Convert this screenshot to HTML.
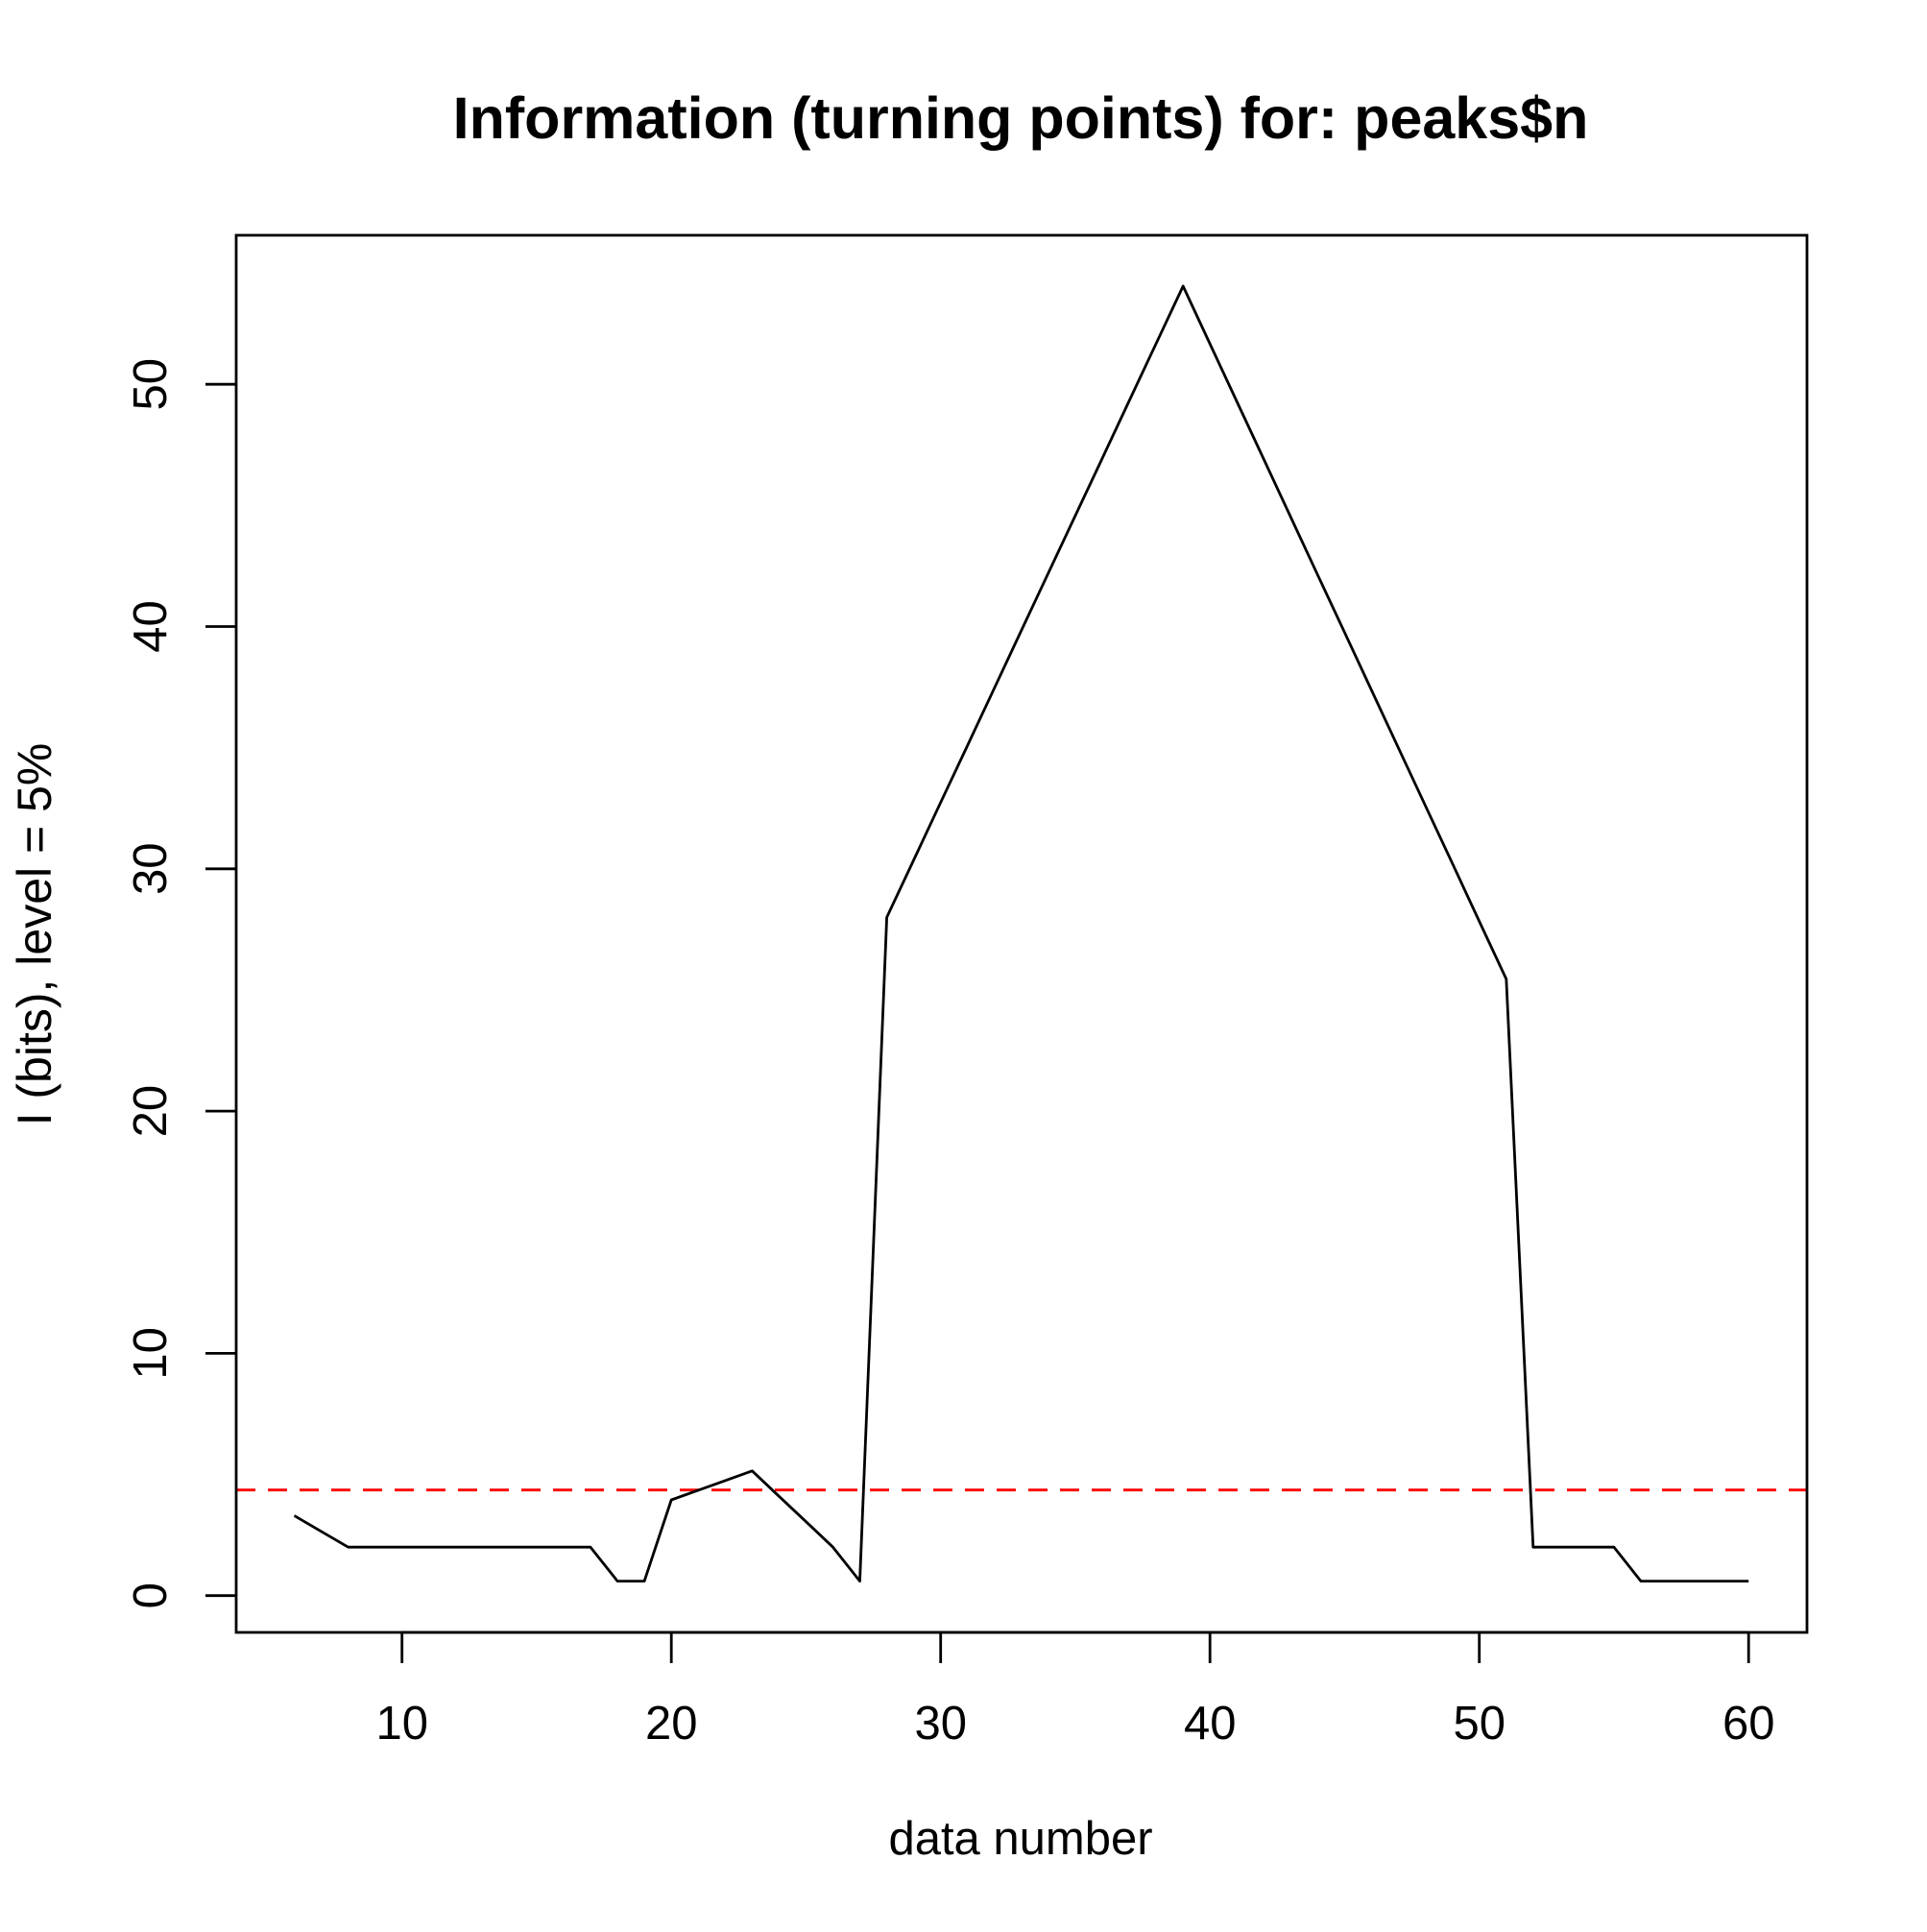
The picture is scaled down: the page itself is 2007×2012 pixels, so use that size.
<!DOCTYPE html>
<html><head><meta charset="utf-8"><style>
html,body{margin:0;padding:0;background:#fff}
svg text{font-family:"Liberation Sans",Arial,sans-serif;fill:#000}
</style></head><body>
<svg id="chart" width="2007" height="2007" viewBox="0 0 2007 2007" xmlns="http://www.w3.org/2000/svg">
<rect x="0" y="0" width="2007" height="2007" fill="#fff"/>
<text x="1063" y="144" font-size="61" font-weight="bold" text-anchor="middle">Information (turning points) for: peaks$n</text>
<text x="1063" y="1931" font-size="49" text-anchor="middle">data number</text>
<text transform="translate(53,973) rotate(-90)" font-size="50" text-anchor="middle">I (bits), level = 5%</text>
<g id="axes"></g>
<g id="marks"></g>
<rect x="246" y="245" width="1636" height="1455" fill="none" stroke="#000" stroke-width="2.8"/>
</svg>
<script>
const xValues = [6,7,8,9,10,11,12,13,14,15,16,17,18,19,20,21,22,23,24,25,26,27,28,29,30,31,32,33,34,35,36,37,38,39,40,41,42,43,44,45,46,47,48,49,50,51,52,53,54,55,56,57,58,59,60];
const infoValues = [3.3,2.65,2,2,2,2,2,2,2,2,2,2,0.6,0.6,3.95,4.35,4.75,5.15,4.1,3.05,2,0.6,28,30.37,32.74,35.1,37.47,39.84,42.21,44.58,46.94,49.31,51.68,54.05,51.67,49.28,46.9,44.52,42.13,39.75,37.37,34.98,32.6,30.22,27.83,25.45,2,2,2,2,0.6,0.6,0.6,0.6,0.6];
const thresholdValue = 4.36;
const xTicks = [10,20,30,40,50,60];
const yTicks = [0,10,20,30,40,50];

const NS = "http://www.w3.org/2000/svg";
function sx(v){ return 418.7 + (v - 10) * 28.05; }
function sy(v){ return 1661.7 - v * 25.23; }
const axes = document.getElementById('axes');
const marks = document.getElementById('marks');
function mk(tag, attrs, parent){
  const e = document.createElementNS(NS, tag);
  for (const k in attrs) e.setAttribute(k, attrs[k]);
  parent.appendChild(e);
  return e;
}
mk('line',{x1:sx(xTicks[0]),x2:sx(xTicks[xTicks.length-1]),y1:1700,y2:1700,stroke:'#000','stroke-width':2.8},axes);
xTicks.forEach(t=>{
  const l = mk('line',{x1:sx(t),x2:sx(t),y1:1700,y2:1732,stroke:'#000','stroke-width':2.8},axes);
  
  
  const tx = mk('text',{x:sx(t),y:1811,'font-size':49,'text-anchor':'middle'},axes);
  tx.textContent = t;
  
  
});
yTicks.forEach(t=>{
  const l = mk('line',{x1:214,x2:246,y1:sy(t),y2:sy(t),stroke:'#000','stroke-width':2.8},axes);
  
  
  const tx = mk('text',{transform:'translate(173,'+sy(t)+') rotate(-90)','font-size':49,'text-anchor':'middle'},axes);
  tx.textContent = t;
  
  
});
const th = mk('line',{x1:246,x2:1882,y1:sy(thresholdValue),y2:sy(thresholdValue),stroke:'#ff0000','stroke-width':2.8,'stroke-dasharray':'20 13'},marks);


const pts = xValues.map((x,i)=>sx(x).toFixed(1)+','+sy(infoValues[i]).toFixed(1)).join(' ');
const pl = mk('polyline',{points:pts,fill:'none',stroke:'#000','stroke-width':2.8,'stroke-linejoin':'round'},marks);


</script>
</body></html>
